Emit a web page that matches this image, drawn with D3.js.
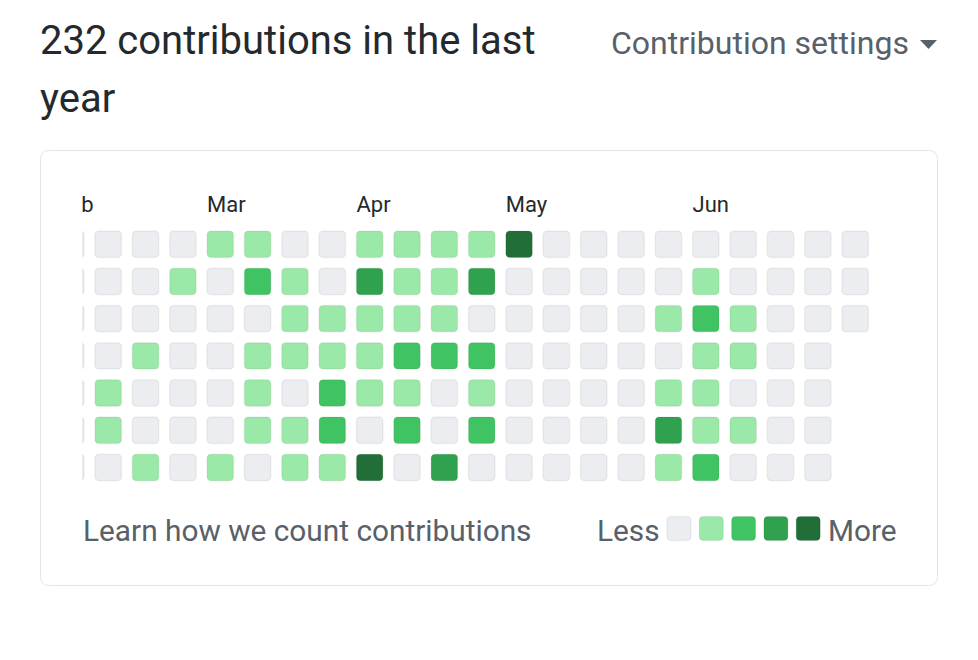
<!DOCTYPE html>
<html>
<head>
<meta charset="utf-8">
<script src="https://cdn.jsdelivr.net/npm/d3@7"></script>
<style>
  html, body { margin: 0; padding: 0; background: #fff; }
  svg text { font-family: Roboto, "Noto Sans", sans-serif; }
</style>
</head>
<body>
<div id="chart"></div>
<script>
// contribution level per day, one array per week (Sun..Sat), first week is cut off at the left
var weeks = [
  [0,0,0,0,0,0,0],
  [0,0,0,0,1,1,0],
  [0,0,0,1,0,0,1],
  [0,1,0,0,0,0,0],
  [1,0,0,0,0,0,1],
  [1,2,0,1,1,1,0],
  [0,1,1,1,0,1,1],
  [0,0,1,1,2,2,1],
  [1,3,1,1,1,0,4],
  [1,1,1,2,1,2,0],
  [1,1,1,2,0,0,3],
  [1,3,0,2,1,2,0],
  [4,0,0,0,0,0,0],
  [0,0,0,0,0,0,0],
  [0,0,0,0,0,0,0],
  [0,0,0,0,0,0,0],
  [0,0,1,0,1,3,1],
  [0,1,2,1,1,1,2],
  [0,0,1,1,0,1,0],
  [0,0,0,0,0,0,0],
  [0,0,0,0,0,0,0],
  [0,0,0]
];
var monthNames = ["Feb", "Mar", "Apr", "May", "Jun"];
var monthWeek  = [0, 4, 8, 12, 17];
var levelColors = ["#ebedf0", "#9be9a8", "#40c463", "#30a14e", "#216e39"];
var legendLevels = [0, 1, 2, 3, 4];
var total = 232;

var width = 978, height = 660;
var svg = d3.select("#chart").append("svg")
    .attr("width", width)
    .attr("height", height);

svg.append("rect").attr("width", width).attr("height", height).attr("fill", "#fff");

// heading
var head = svg.append("text")
    .attr("x", 40).attr("y", 54)
    .attr("font-size", 40)
    .attr("fill", "#24292e");
head.append("tspan").attr("x", 40).text(total + " contributions in the last");
head.append("tspan").attr("x", 40).attr("dy", 58).text("year");

svg.append("text")
    .attr("x", 611).attr("y", 54)
    .attr("font-size", 32)
    .attr("fill", "#586069")
    .text("Contribution settings");
// little caret
svg.append("path")
    .attr("d", "M920,40 L937,40 L928.5,49 Z")
    .attr("fill", "#586069");

// card
svg.append("rect")
    .attr("x", 40.5).attr("y", 150.5)
    .attr("width", 897).attr("height", 435)
    .attr("rx", 8)
    .attr("fill", "#fff")
    .attr("stroke", "#e1e4e8");

// grid scales
var x = d3.scaleLinear().domain([0, 1]).range([57.65, 95]);
var y = d3.scaleBand().domain(d3.range(7)).range([231, 231 + 6 * 37.2 + 26.5]).paddingInner(0.29);

svg.append("clipPath").attr("id", "gridclip")
  .append("rect").attr("x", 82).attr("y", 180).attr("width", 820).attr("height", 320);

var grid = svg.append("g").attr("clip-path", "url(#gridclip)");

grid.selectAll("text.month")
    .data(monthNames)
    .enter().append("text")
    .attr("class", "month")
    .attr("x", function(d, i) { return x(monthWeek[i]); })
    .attr("y", 212)
    .attr("font-size", 22)
    .attr("fill", "#24292e")
    .text(function(d) { return d; });

var cellSize = y.bandwidth();

var cols = grid.selectAll("g.week")
    .data(weeks)
    .enter().append("g")
    .attr("class", "week")
    .attr("transform", function(d, i) { return "translate(" + x(i) + ",0)"; });

cols.selectAll("rect")
    .data(function(d) { return d; })
    .enter().append("rect")
    .attr("x", 0)
    .attr("y", function(d, i) { return y(i); })
    .attr("width", cellSize)
    .attr("height", cellSize)
    .attr("rx", 4)
    .attr("fill", function(d) { return levelColors[d]; })
    .attr("stroke", "rgba(27,31,35,0.06)")
    .attr("stroke-width", 1.5);

// footer
svg.append("text")
    .attr("x", 83).attr("y", 541)
    .attr("font-size", 29.8)
    .attr("fill", "#586069")
    .text("Learn how we count contributions");

svg.append("text")
    .attr("x", 597).attr("y", 541)
    .attr("font-size", 29.8)
    .attr("fill", "#586069")
    .text("Less");

var lx = d3.scaleLinear().domain([0, 1]).range([667, 699.3]);
svg.selectAll("rect.legend")
    .data(legendLevels)
    .enter().append("rect")
    .attr("class", "legend")
    .attr("x", function(d) { return lx(d); })
    .attr("y", 516.5)
    .attr("width", 24).attr("height", 24)
    .attr("rx", 4)
    .attr("fill", function(d) { return levelColors[d]; })
    .attr("stroke", "rgba(27,31,35,0.06)")
    .attr("stroke-width", 1.5);

svg.append("text")
    .attr("x", 828).attr("y", 541)
    .attr("font-size", 29.8)
    .attr("fill", "#586069")
    .text("More");
</script>
</body>
</html>
